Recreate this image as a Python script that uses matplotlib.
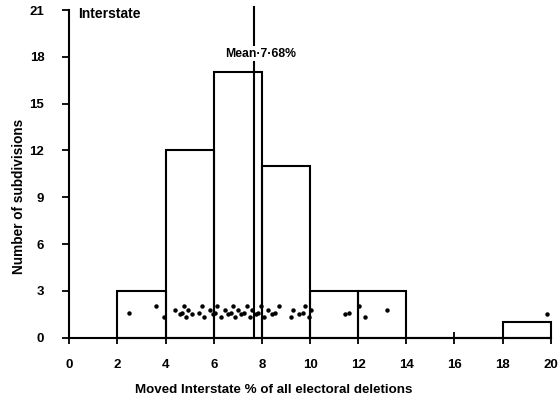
import matplotlib
matplotlib.use("Agg")
import matplotlib.pyplot as plt
import numpy as np

# Histogram of subdivisions by share of electoral deletions that moved interstate
bin_edges = [2, 4, 6, 8, 10, 12, 14, 16, 18, 20]
counts = [3, 12, 17, 11, 3, 3, 0, 0, 1]

# Individual subdivision values shown as a strip of dots
observations = [
    2.48, 3.62, 3.92,
    4.40, 4.60, 4.70, 4.75, 4.85, 4.95, 5.10, 5.40, 5.50, 5.60, 5.85, 5.95,
    6.05, 6.15, 6.30, 6.45, 6.60, 6.70, 6.80, 6.90, 7.00, 7.15, 7.25, 7.40,
    7.50, 7.60, 7.75, 7.85, 7.95,
    8.10, 8.25, 8.40, 8.55, 8.70, 9.20, 9.30, 9.55, 9.70, 9.80, 9.95,
    10.05, 11.45, 11.60,
    12.05, 12.30, 13.20,
    19.85,
]
mean_value = 7.68

x_ticks = [0, 2, 4, 6, 8, 10, 12, 14, 16, 18, 20]
y_ticks = [0, 3, 6, 9, 12, 15, 18, 21]

plt.rcParams['font.family'] = ['Liberation Sans', 'DejaVu Sans']
plt.rcParams['font.weight'] = 'bold'

fig = plt.figure(figsize=(5.6, 4.05), dpi=100)
ax = fig.add_axes([0.1238, 0.1662, 0.8596, 0.8244])

lw = 1.5
widths = np.diff(bin_edges)
ax.bar(bin_edges[:-1], counts, width=widths, align='edge',
       fill=False, edgecolor='black', linewidth=lw, clip_on=False)

# strip of points, staggered vertically so they stay visible
levels = [1.6, 2.0, 1.35, 1.8, 1.5]
ys = [levels[i % len(levels)] for i in range(len(observations))]
ax.plot(observations, ys, linestyle='none', marker='o', markersize=2.2,
        color='black', clip_on=False)

# mean marker
ax.plot([mean_value, mean_value], [0, 21.2], color='black', linewidth=lw,
        clip_on=False)
ax.text(mean_value + 0.25, 18.2, 'Mean·7·68%', ha='center', va='center',
        fontsize=8.8, fontweight='bold',
        bbox=dict(facecolor='white', edgecolor='none', pad=1.0))

ax.text(0.37, 20.75, 'Interstate', ha='left', va='center',
        fontsize=10, fontweight='bold')

ax.set_xlim(0, 20)
ax.set_ylim(0, 21.4)

for side in ['top', 'right']:
    ax.spines[side].set_visible(False)
ax.spines['left'].set_bounds(0, 21)
ax.spines['bottom'].set_bounds(0, 20)
ax.spines['left'].set_linewidth(lw)
ax.spines['bottom'].set_linewidth(lw)
ax.spines['bottom'].set_zorder(5)

ax.set_xticks(x_ticks)
ax.set_yticks(y_ticks)
ax.tick_params(axis='x', direction='inout', length=9, width=1.3,
               pad=11, labelsize=9.5)
ax.tick_params(axis='y', direction='out', length=5, width=1.3,
               pad=13, labelsize=9.5)
for lab in ax.get_xticklabels() + ax.get_yticklabels():
    lab.set_fontweight('bold')

ax.set_xlabel('Moved Interstate % of all electoral deletions',
              fontsize=9.6, fontweight='bold')
ax.xaxis.set_label_coords(0.425, -0.14)
ax.set_ylabel('Number of subdivisions', fontsize=9.8, fontweight='bold')
ax.yaxis.set_label_coords(-0.09, 0.424)

fig.savefig('out.png', dpi=100)
